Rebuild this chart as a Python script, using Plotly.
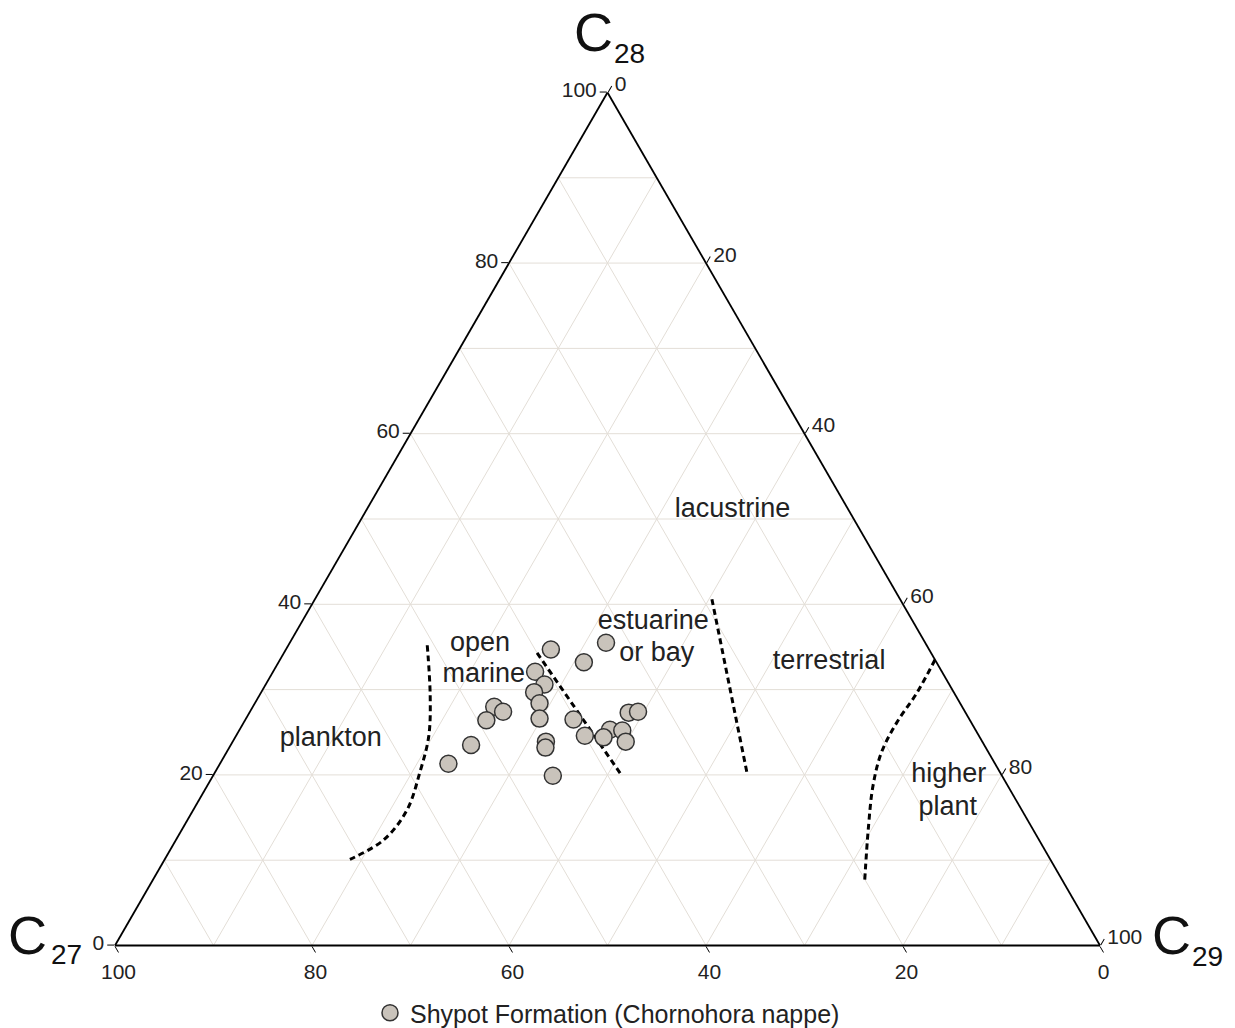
import plotly.graph_objects as go

# Sterane composition of the Shypot Formation samples (percent of C27+C28+C29)
c28 = [34.7, 35.5, 33.2, 32.1, 30.6, 29.7, 28.4, 28.0, 27.4, 26.4, 26.6, 26.5,
       27.3, 27.4, 25.3, 25.2, 24.6, 24.4, 23.9, 23.9, 23.2, 23.5, 21.3, 19.9]
c27 = [38.4, 32.4, 35.8, 41.3, 41.1, 42.6, 42.7, 47.5, 46.9, 49.1, 43.6, 40.2,
       34.2, 33.2, 37.1, 35.9, 40.0, 38.2, 36.2, 44.3, 44.7, 52.1, 55.5, 45.6]
c29 = [26.9, 32.1, 31.0, 26.6, 28.3, 27.7, 28.9, 24.5, 25.7, 24.5, 29.8, 33.3,
       38.5, 39.4, 37.6, 38.9, 35.4, 37.4, 39.9, 31.8, 32.1, 24.4, 23.2, 34.5]
series_name = "Shypot Formation (Chornohora nappe)"

# Environment boundaries (C28, C27, C29)
plankton_a = [35.2, 29.2, 24.5, 20.3, 15.9, 12.4, 10.1]
plankton_b = [50.7, 53.4, 55.9, 58.9, 62.4, 66.5, 71.1]
plankton_c = [14.1, 17.4, 19.6, 20.8, 21.7, 21.1, 18.8]

marine_a = [34.3, 20.1]
marine_b = [40.0, 38.6]
marine_c = [25.7, 41.3]

estuary_a = [40.6, 20.3]
estuary_b = [19.1, 25.7]
estuary_c = [40.3, 54.0]

plant_a = [33.5, 29.6, 26.1, 22.6, 18.7, 14.0, 7.4]
plant_b = [0.0, 3.8, 7.6, 10.9, 13.7, 16.5, 20.2]
plant_c = [66.5, 66.6, 66.3, 66.5, 67.6, 69.5, 72.4]

# Environment labels, one entry per text line (C28, C27, C29)
env_text = ["lacustrine", "estuarine", "or bay", "terrestrial", "open", "marine",
            "plankton", "higher", "plant"]
env_a = [51.0, 37.9, 34.2, 33.2, 35.3, 31.7, 24.2, 19.9, 16.1]
env_b = [11.8, 26.4, 27.9, 10.9, 45.3, 46.7, 66.0, 5.4, 7.4]
env_c = [37.2, 35.7, 37.9, 55.9, 19.4, 21.6, 9.8, 74.7, 76.5]

tick_vals = [0, 20, 40, 60, 80, 100]
grid_steps = [10, 20, 30, 40, 50, 60, 70, 80, 90]

FONT = "Arial, Liberation Sans, sans-serif"

fig = go.Figure()

# 10 % grid lines for all three components
ga, gb, gc = [], [], []
for k in grid_steps:
    ga += [k, k, None, 100 - k, 0, None, 100 - k, 0, None]
    gb += [100 - k, 0, None, k, k, None, 0, 100 - k, None]
    gc += [0, 100 - k, None, 0, 100 - k, None, k, k, None]
fig.add_trace(go.Scatterternary(
    a=ga, b=gb, c=gc, mode="lines", connectgaps=False,
    line=dict(color="#e3ded7", width=1), hoverinfo="skip", showlegend=False))

for la, lb, lc in [(plankton_a, plankton_b, plankton_c),
                   (marine_a, marine_b, marine_c),
                   (estuary_a, estuary_b, estuary_c),
                   (plant_a, plant_b, plant_c)]:
    fig.add_trace(go.Scatterternary(
        a=la, b=lb, c=lc, mode="lines", line_shape="spline",
        line=dict(color="black", width=3, dash="6px,4px"),
        hoverinfo="skip", showlegend=False))

fig.add_trace(go.Scatterternary(
    a=env_a, b=env_b, c=env_c, mode="text", text=env_text,
    textposition="middle center",
    textfont=dict(family=FONT, size=27, color="#222222"),
    hoverinfo="skip", showlegend=False))

fig.add_trace(go.Scatterternary(
    a=c28, b=c27, c=c29, mode="markers", name=series_name,
    marker=dict(size=17, color="#c9c3bb", line=dict(color="#333333", width=1.5))))

axis_common = dict(
    tickvals=tick_vals, ticks="outside", ticklen=7, tickwidth=1.2, tickcolor="black",
    linecolor="black", linewidth=1.8, showgrid=False,
    tickfont=dict(family=FONT, size=21, color="#222222"), title=dict(text=""))

fig.update_layout(
    width=1235, height=1028,
    margin=dict(l=115, r=135, t=92, b=82),
    paper_bgcolor="white",
    font=dict(family=FONT, color="#222222"),
    ternary=dict(sum=100, bgcolor="white",
                 aaxis=axis_common, baxis=axis_common, caxis=axis_common),
    showlegend=True,
    legend=dict(orientation="h", x=0.5, xanchor="center",
                yref="container", y=(1028 - 1013) / 1028, yanchor="middle",
                font=dict(family=FONT, size=25, color="#222222")),
)

# Vertex labels
def px_to_paper(px, py):
    return (px - 115) / 985, (946 - py) / 854

for txt, size, px, py in [("C", 54, 27.5, 935), ("27", 28, 66, 955),
                          ("C", 54, 1171, 935), ("29", 28, 1207, 957),
                          ("C", 54, 593.5, 32), ("28", 28, 629, 54)]:
    x, y = px_to_paper(px, py)
    fig.add_annotation(x=x, y=y, xref="paper", yref="paper", text=txt, showarrow=False,
                       xanchor="center", yanchor="middle",
                       font=dict(family=FONT, size=size, color="#111111"))

fig.write_html("out.html")
